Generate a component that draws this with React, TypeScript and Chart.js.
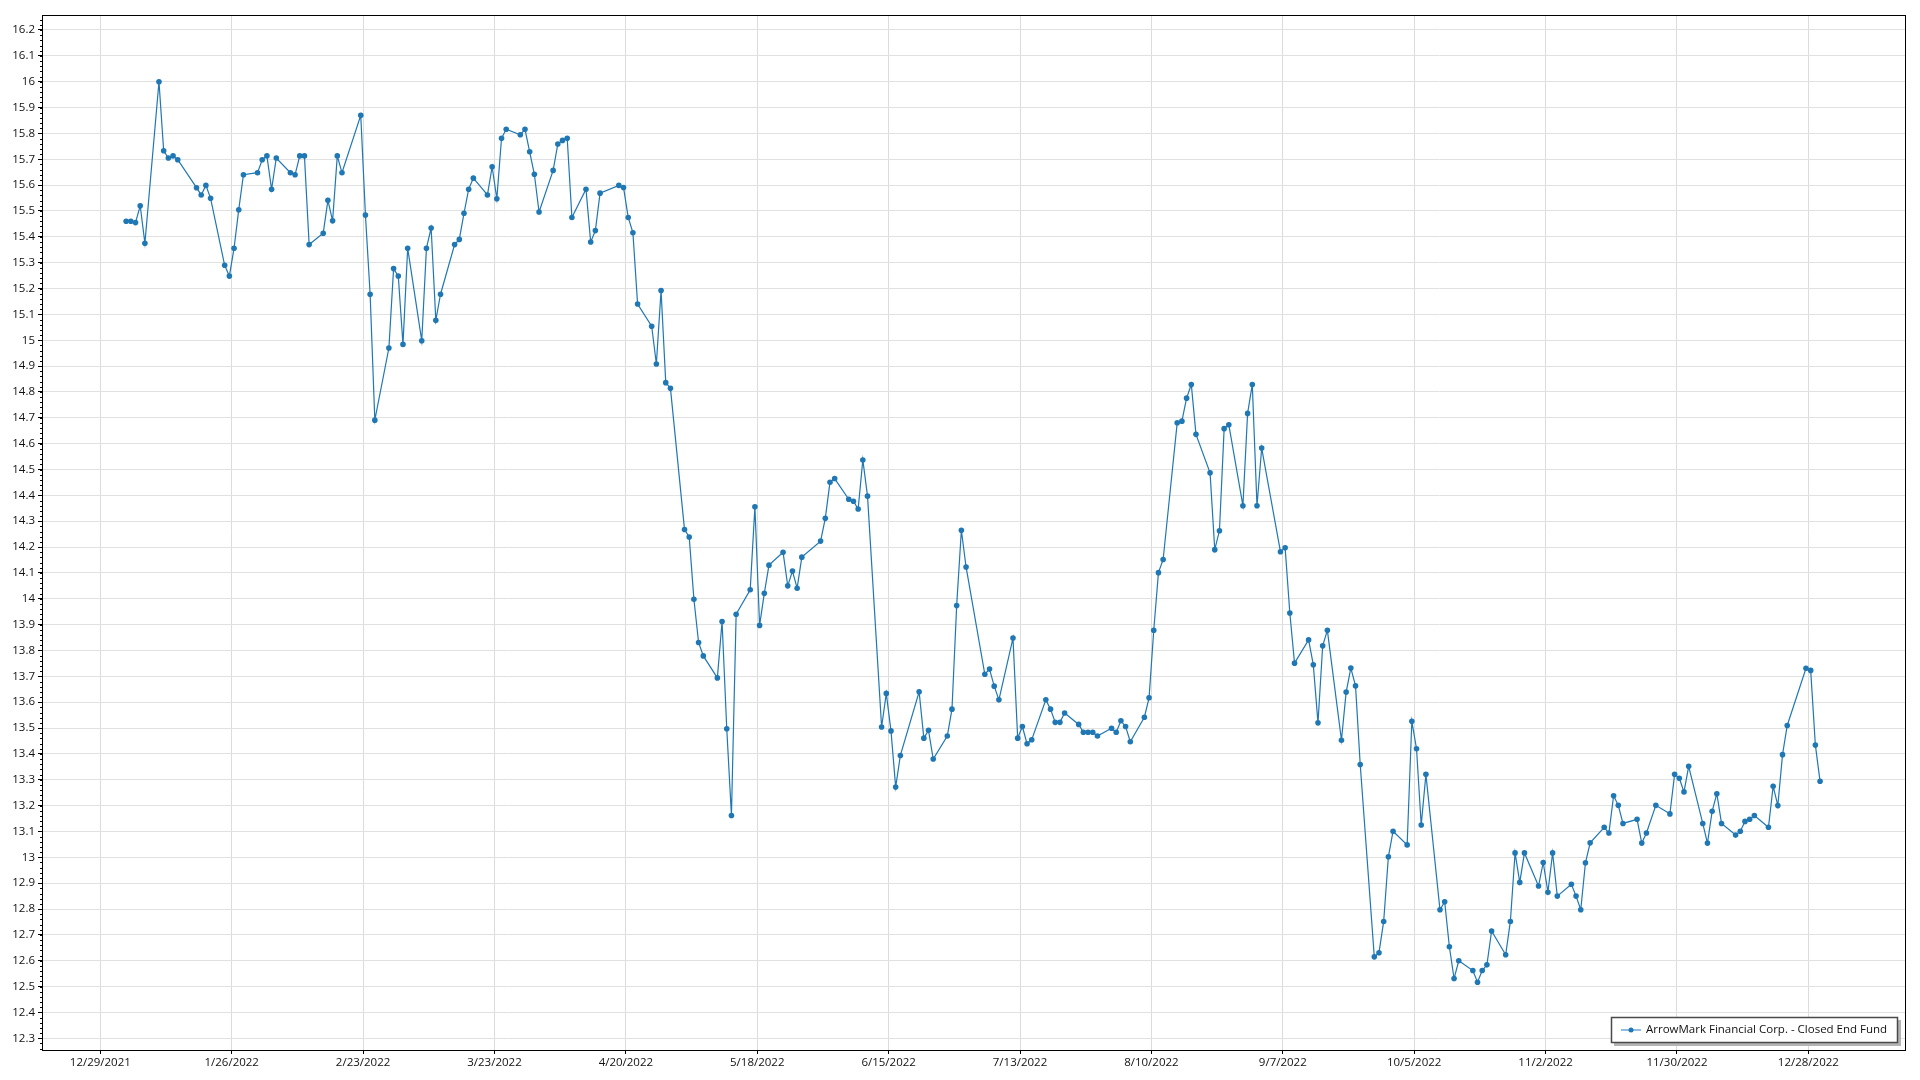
import React, { useEffect, useRef } from "react";
import { Chart, registerables } from "chart.js";

Chart.register(...registerables);

const seriesLabel = "ArrowMark Financial Corp. - Closed End Fund";

const tradeDates = [
  "1/3","1/4","1/5","1/6","1/7","1/10","1/11","1/12","1/13","1/14","1/18","1/19","1/20","1/21","1/24","1/25","1/26","1/27","1/28","1/31",
  "2/1","2/2","2/3","2/4","2/7","2/8","2/9","2/10","2/11","2/14","2/15","2/16","2/17","2/18","2/22","2/23","2/24","2/25","2/28",
  "3/1","3/2","3/3","3/4","3/7","3/8","3/9","3/10","3/11","3/14","3/15","3/16","3/17","3/18","3/21","3/22","3/23","3/24","3/25","3/28","3/29","3/30","3/31",
  "4/1","4/4","4/5","4/6","4/7","4/8","4/11","4/12","4/13","4/14","4/18","4/19","4/20","4/21","4/22","4/25","4/26","4/27","4/28","4/29",
  "5/2","5/3","5/4","5/5","5/6","5/9","5/10","5/11","5/12","5/13","5/16","5/17","5/18","5/19","5/20","5/23","5/24","5/25","5/26","5/27","5/31",
  "6/1","6/2","6/3","6/6","6/7","6/8","6/9","6/10","6/13","6/14","6/15","6/16","6/17","6/21","6/22","6/23","6/24","6/27","6/28","6/29","6/30",
  "7/1","7/5","7/6","7/7","7/8","7/11","7/12","7/13","7/14","7/15","7/18","7/19","7/20","7/21","7/22","7/25","7/26","7/27","7/28","7/29",
  "8/1","8/2","8/3","8/4","8/5","8/8","8/9","8/10","8/11","8/12","8/15","8/16","8/17","8/18","8/19","8/22","8/23","8/24","8/25","8/26","8/29","8/30","8/31",
  "9/1","9/2","9/6","9/7","9/8","9/9","9/12","9/13","9/14","9/15","9/16","9/19","9/20","9/21","9/22","9/23","9/26","9/27","9/28","9/29","9/30",
  "10/3","10/4","10/5","10/6","10/7","10/10","10/11","10/12","10/13","10/14","10/17","10/18","10/19","10/20","10/21","10/24","10/25","10/26","10/27","10/28","10/31",
  "11/1","11/2","11/3","11/4","11/7","11/8","11/9","11/10","11/11","11/14","11/15","11/16","11/17","11/18","11/21","11/22","11/23","11/25","11/28","11/29","11/30",
  "12/1","12/2","12/5","12/6","12/7","12/8","12/9","12/12","12/13","12/14","12/15","12/16","12/19","12/20","12/21","12/22","12/23","12/27","12/28","12/29","12/30",
];

const prices = [
  15.46,15.46,15.455,15.52,15.375,16.0,15.733,15.705,15.713,15.698,15.59,15.562,15.599,15.549,15.29,15.248,15.356,15.505,15.64,15.648,
  15.698,15.713,15.584,15.705,15.648,15.64,15.713,15.713,15.37,15.414,15.541,15.462,15.713,15.648,15.87,15.484,15.178,14.691,14.97,
  15.277,15.248,14.984,15.356,14.998,15.356,15.434,15.077,15.178,15.37,15.39,15.491,15.584,15.627,15.562,15.671,15.547,15.781,15.816,15.795,15.816,15.729,15.642,
  15.496,15.657,15.759,15.773,15.781,15.475,15.584,15.38,15.424,15.569,15.599,15.591,15.475,15.416,15.14,15.054,14.908,15.192,14.836,14.814,
  14.268,14.239,13.998,13.831,13.779,13.694,13.912,13.497,13.162,13.94,14.035,14.356,13.897,14.021,14.13,14.18,14.05,14.107,14.041,14.161,14.223,
  14.311,14.451,14.465,14.385,14.377,14.347,14.537,14.397,13.504,13.634,13.489,13.272,13.394,13.64,13.461,13.491,13.38,13.469,13.573,13.974,14.265,
  14.123,13.708,13.728,13.662,13.609,13.848,13.461,13.506,13.439,13.455,13.609,13.573,13.522,13.522,13.558,13.514,13.484,13.484,13.484,13.469,
  13.499,13.484,13.528,13.506,13.447,13.542,13.617,13.878,14.101,14.152,14.681,14.687,14.776,14.829,14.636,14.487,14.19,14.263,14.658,14.673,14.36,14.717,14.829,
  14.36,14.583,14.182,14.197,13.945,13.751,13.841,13.745,13.52,13.818,13.878,13.453,13.639,13.732,13.663,13.359,12.615,12.631,12.752,13.002,13.101,
  13.048,13.526,13.42,13.125,13.321,12.797,12.828,12.654,12.531,12.6,12.562,12.517,12.562,12.584,12.715,12.623,12.752,13.017,12.903,13.017,12.889,
  12.98,12.865,13.017,12.85,12.896,12.85,12.797,12.979,13.056,13.116,13.094,13.238,13.201,13.131,13.147,13.055,13.094,13.201,13.168,13.321,13.306,
  13.253,13.352,13.131,13.055,13.178,13.246,13.131,13.086,13.101,13.139,13.147,13.162,13.116,13.275,13.2,13.397,13.51,13.731,13.723,13.434,13.294,
];

// x-axis tick labels (every 28 days)
const xTickLabels = [
  "12/29/2021","1/26/2022","2/23/2022","3/23/2022","4/20/2022","5/18/2022","6/15/2022",
  "7/13/2022","8/10/2022","9/7/2022","10/5/2022","11/2/2022","11/30/2022","12/28/2022",
];
const yTickValues = [
  12.3,12.4,12.5,12.6,12.7,12.8,12.9,13,13.1,13.2,13.3,13.4,13.5,13.6,13.7,13.8,13.9,14,14.1,14.2,
  14.3,14.4,14.5,14.6,14.7,14.8,14.9,15,15.1,15.2,15.3,15.4,15.5,15.6,15.7,15.8,15.9,16,16.1,16.2,
];

const DAY = 86400000;
const BASE = Date.UTC(2021, 11, 29);
function parseLabel(s: string) {
  const p = s.split("/").map(Number);
  return Date.UTC(p[2], p[0] - 1, p[1]);
}
function tradeDay(s: string) {
  const [m, d] = s.split("/").map(Number);
  return (Date.UTC(2022, m - 1, d, 12) - BASE) / DAY;
}
const xTickValues = xTickLabels.map((s) => (parseLabel(s) - BASE) / DAY);

const FONT = "'Segoe UI', 'Open Sans', 'Noto Sans', sans-serif";
const FONT_SIZE = 11.5;
const TEXT = "#111";
const LINE = "#1f77b4";

export default function App() {
  const ref = useRef<HTMLCanvasElement | null>(null);

  useEffect(() => {
    document.body.style.margin = "0";
    const canvas = ref.current;
    if (!canvas) return;

    const frame = {
      id: "frameAndLegend",
      afterDraw(chart: any) {
        const ctx = chart.ctx;
        const a = chart.chartArea;
        const ys = chart.scales.y;
        ctx.save();
        // minor ticks on y axis
        ctx.strokeStyle = "#000";
        ctx.lineWidth = 1;
        ctx.beginPath();
        const step = 0.02;
        for (let v = Math.ceil(ys.min / step) * step; v <= ys.max; v += step) {
          const py = Math.round(ys.getPixelForValue(v)) + 0.5;
          ctx.moveTo(a.left - 2, py);
          ctx.lineTo(a.left, py);
        }
        ctx.stroke();
        // frame
        ctx.strokeStyle = "#000";
        ctx.lineWidth = 1;
        ctx.strokeRect(Math.round(a.left) + 0.5, Math.round(a.top) + 0.5, Math.round(a.right - a.left), Math.round(a.bottom - a.top));

        // legend box (bottom-right inside plot)
        ctx.font = `${FONT_SIZE}px ${FONT}`;
        const tw = ctx.measureText(seriesLabel).width;
        const bw = Math.round(tw + 46);
        const bh = 26;
        const bx = Math.round(a.right - 7 - bw);
        const by = Math.round(a.bottom - 7 - bh);
        ctx.fillStyle = "#b4b4b4";
        ctx.fillRect(bx + 3, by + 3, bw, bh);
        ctx.fillStyle = "#fff";
        ctx.fillRect(bx, by, bw, bh);
        ctx.strokeStyle = "#4a4a4a";
        ctx.lineWidth = 1.5;
        ctx.strokeRect(bx + 0.5, by + 0.5, bw - 1, bh - 1);
        const cy = by + bh / 2;
        ctx.strokeStyle = "#6aa6d6";
        ctx.lineWidth = 1.5;
        ctx.beginPath();
        ctx.moveTo(bx + 10, cy);
        ctx.lineTo(bx + 30, cy);
        ctx.stroke();
        ctx.fillStyle = LINE;
        ctx.beginPath();
        ctx.arc(bx + 20, cy, 2.5, 0, Math.PI * 2);
        ctx.fill();
        ctx.fillStyle = TEXT;
        ctx.textBaseline = "middle";
        ctx.textAlign = "left";
        ctx.fillText(seriesLabel, bx + 35, cy);
        ctx.restore();
      },
    };

    const chart = new Chart(canvas, {
      type: "line",
      data: {
        datasets: [
          {
            label: seriesLabel,
            data: tradeDates.map((d, i) => ({ x: tradeDay(d), y: prices[i] })),
            borderColor: LINE,
            backgroundColor: LINE,
            borderWidth: 1.2,
            pointRadius: 2.8,
            pointBorderWidth: 0,
            pointBackgroundColor: LINE,
            tension: 0,
          },
        ],
      },
      options: {
        responsive: false,
        animation: false,
        devicePixelRatio: 1,
        layout: { padding: { top: 15, right: 15, left: 0, bottom: 0 } },
        plugins: { legend: { display: false }, tooltip: { enabled: false } },
        scales: {
          x: {
            type: "linear",
            min: -12.43,
            max: 384.6,
            afterBuildTicks: (s: any) => {
              s.ticks = xTickValues.map((v) => ({ value: v }));
            },
            afterFit: (s: any) => {
              s.height = 30;
            },
            ticks: {
              autoSkip: false,
              maxRotation: 0,
              padding: 2,
              color: TEXT,
              font: { family: FONT, size: FONT_SIZE },
              callback: (v: any) => {
                const i = xTickValues.indexOf(Number(v));
                return i >= 0 ? xTickLabels[i] : "";
              },
            },
            grid: { color: "#dcdcdc", tickColor: "#000", tickLength: 4, lineWidth: 1 },
            border: { color: "#000" },
          },
          y: {
            type: "linear",
            min: 12.2547,
            max: 16.258,
            afterBuildTicks: (s: any) => {
              s.ticks = yTickValues.map((v) => ({ value: v }));
            },
            afterFit: (s: any) => {
              s.width = 42;
            },
            ticks: {
              autoSkip: false,
              padding: 3,
              color: TEXT,
              font: { family: FONT, size: FONT_SIZE },
              callback: (v: any) => String(Math.round(Number(v) * 10) / 10),
            },
            grid: { color: "#e1e1e1", tickColor: "#000", tickLength: 4, lineWidth: 1 },
            border: { color: "#000" },
          },
        },
      },
      plugins: [frame],
    } as any);

    return () => chart.destroy();
  }, []);

  return (
    <div style={{ width: 1920, height: 1080, background: "#fff" }}>
      <canvas ref={ref} width={1920} height={1080} style={{ display: "block" }} />
    </div>
  );
}
